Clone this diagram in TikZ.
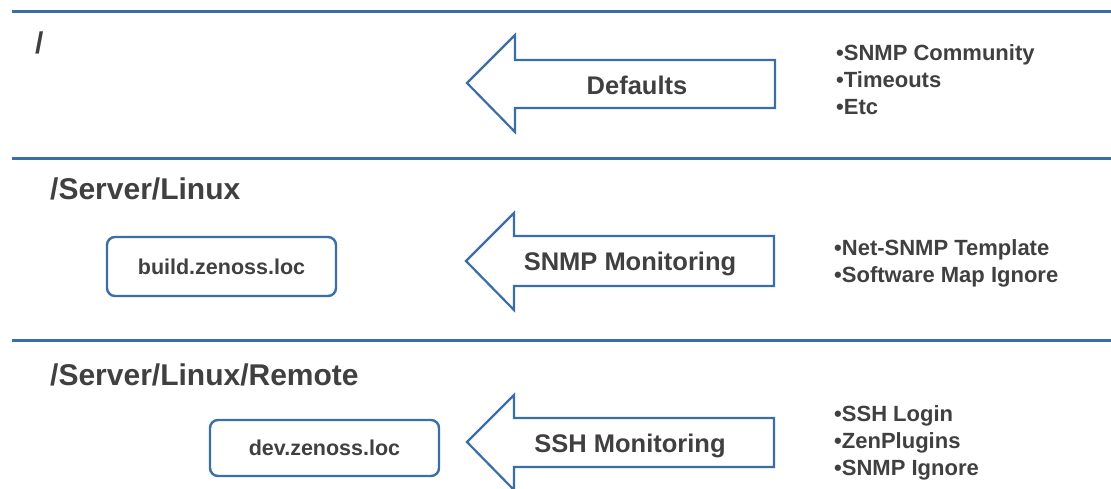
\documentclass[tikz,border=0pt]{standalone}
\usepackage{fontspec}
\setmainfont{Liberation Sans}
\definecolor{lineblue}{HTML}{3A6EA5}
\definecolor{txt}{HTML}{404040}
\begin{document}
\begin{tikzpicture}[x=1pt,y=-1pt,
  sepline/.style={draw=lineblue,line width=3pt},
  bigarrow/.style={draw=lineblue,line width=2.2pt,fill=white,line join=miter},
  hostbox/.style={draw=lineblue,line width=2.4pt,rounded corners=8pt,minimum width=229pt,inner sep=0pt,text=txt,font=\bfseries\fontsize{21.5}{24}\selectfont},
  header/.style={anchor=west,inner sep=0pt,text=txt,font=\bfseries\fontsize{30}{32}\selectfont},
  arrowlabel/.style={inner sep=0pt,text=txt,font=\bfseries\fontsize{25.5}{28}\selectfont},
  bullets/.style={anchor=north west,inner sep=0pt,align=left,text=txt,font=\bfseries\fontsize{22}{27.4}\selectfont}]
\useasboundingbox[fill=white] (0,0) rectangle (1111,488);
% separator lines
\coordinate (l1a) at (12,11); \coordinate (l1b) at (1111,11);
\coordinate (l2a) at (12,158); \coordinate (l2b) at (1111,158);
\coordinate (l3a) at (12,340); \coordinate (l3b) at (1111,340);
\draw[sepline] (l1a) -- (l1b);
\draw[sepline] (l2a) -- (l2b);
\draw[sepline] (l3a) -- (l3b);
% headers
\node[header] (h1) at (35,43) {/};
\node[header] (h2) at (50,189) {/Server/Linux};
\node[header] (h3) at (50,375) {/Server/Linux/Remote};
% arrows
\draw[bigarrow] (467,83) -- (515,35) -- (515,60) -- (775,60) -- (775,108) -- (515,108) -- (515,132) -- cycle;
\draw[bigarrow] (466,261) -- (514,213) -- (514,236) -- (774,236) -- (774,286) -- (514,286) -- (514,310) -- cycle;
\draw[bigarrow] (467,442) -- (514,395) -- (514,418) -- (774,418) -- (774,467) -- (514,467) -- (514,490) -- cycle;
\node[arrowlabel] (a1) at (637,85) {Defaults};
\node[arrowlabel] (a2) at (630,264) {SNMP Monitoring};
\node[arrowlabel] (a3) at (630,446) {SSH Monitoring};
% host boxes
\node[hostbox,minimum height=59pt] (b1) at (221.5,266.5) {build.zenoss.loc};
\node[hostbox,minimum height=56pt] (b2) at (324.5,448) {dev.zenoss.loc};
% bullet lists
\node[bullets] (t1) at (836,44) {•SNMP Community\\•Timeouts\\•Etc};
\node[bullets] (t2) at (834,239) {•Net-SNMP Template\\•Software Map Ignore};
\node[bullets] (t3) at (834,405) {•SSH Login\\•ZenPlugins\\•SNMP Ignore};
\end{tikzpicture}
\end{document}
